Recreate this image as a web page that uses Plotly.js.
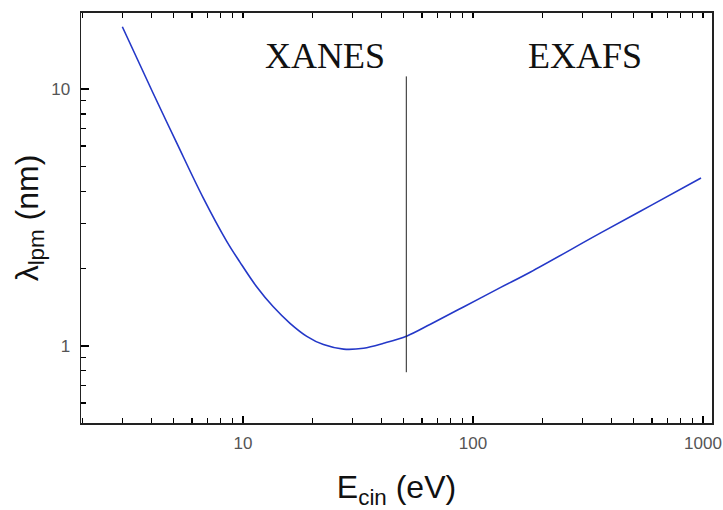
<!DOCTYPE html>
<html>
<head>
<meta charset="utf-8">
<script src="https://cdn.plot.ly/plotly-3.0.1.min.js"></script>
<style>html,body{margin:0;padding:0;background:#fff;}#chart{width:723px;height:510px;}</style>
</head>
<body>
<div id="chart"></div>
<script>
// Kinetic energy (eV) and inelastic mean free path (nm)
const energy = [2.99, 4.07, 5.14, 6.71, 8.49, 9.70, 11.47, 13.55, 16.02, 18.95, 22.38, 27.35, 33.44, 40.87, 51.67, 65.3, 90.9, 132, 178, 359, 600, 980];
const lambda = [17.48, 9.63, 6.20, 3.78, 2.56, 2.12, 1.70, 1.42, 1.225, 1.09, 1.012, 0.972, 0.980, 1.024, 1.094, 1.215, 1.418, 1.69, 1.941, 2.754, 3.54, 4.505];
// XANES / EXAFS boundary
const boundaryE = [51.3, 51.3];
const boundaryLambda = [0.79, 11.2];
const regionLabels = ["XANES", "EXAFS"];
// tick positions
const xMajorTicks = [10, 100, 1000];
const xMinorTicks = [2, 3, 4, 5, 6, 7, 8, 9, 20, 30, 40, 50, 60, 70, 80, 90, 200, 300, 400, 500, 600, 700, 800, 900];
const yMinorTicks = [0.6, 0.7, 0.8, 0.9, 2, 3, 4, 5, 6, 7, 8, 9];
const xTopTicks = xMinorTicks.concat(xMajorTicks);

const traces = [
  {
    x: energy, y: lambda, type: 'scatter', mode: 'lines',
    line: {color: '#2438c8', width: 1.6, shape: 'spline', smoothing: 1},
    hoverinfo: 'skip', showlegend: false
  },
  {
    x: boundaryE, y: boundaryLambda, type: 'scatter', mode: 'lines',
    line: {color: '#222', width: 1},
    hoverinfo: 'skip', showlegend: false
  },
  {
    x: [10], y: [1], xaxis: 'x2', yaxis: 'y2', type: 'scatter', mode: 'markers',
    marker: {opacity: 0, size: 1},
    hoverinfo: 'skip', showlegend: false
  },
  {
    x: [10], y: [1], xaxis: 'x3', yaxis: 'y', type: 'scatter', mode: 'markers',
    marker: {opacity: 0, size: 1},
    hoverinfo: 'skip', showlegend: false
  }
];

const tickFont = {family: 'Liberation Sans, Arial, sans-serif', size: 17, color: '#555'};
const titleFont = {family: 'Liberation Sans, Arial, sans-serif', size: 32, color: '#111'};
const xRange = [0.296, 3.039];
const yRange = [-0.30, 1.296];

const layout = {
  width: 723, height: 510,
  margin: {l: 81, r: 11, t: 13, b: 87},
  paper_bgcolor: '#fff', plot_bgcolor: 'rgba(0,0,0,0)',
  showlegend: false,
  xaxis: {
    type: 'log', range: xRange,
    tickmode: 'array', tickvals: xMajorTicks, ticktext: xMajorTicks.map(String),
    ticks: 'inside', ticklen: 7, tickwidth: 1.5, tickcolor: '#000',
    showgrid: false, zeroline: false,
    showline: true, linecolor: '#222', linewidth: 1.5, mirror: false,
    tickfont: tickFont, ticklabelstandoff: 4,
    title: {text: 'E<sub>cin</sub> (eV)', font: titleFont, standoff: 28}
  },
  yaxis: {
    type: 'log', range: yRange,
    dtick: 1, exponentformat: 'none',
    ticks: 'inside', ticklen: 8, tickwidth: 1.5, tickcolor: '#000',
    showgrid: false, zeroline: false,
    showline: true, linecolor: '#222', linewidth: 1.5, mirror: true,
    tickfont: tickFont, ticklabelstandoff: 6,
    title: {text: 'λ<sub>lpm</sub> (nm)', font: titleFont, standoff: 3}
  },
  xaxis2: {
    type: 'log', range: xRange, overlaying: 'x', anchor: 'y2', side: 'bottom',
    tickmode: 'array', tickvals: xMinorTicks, showticklabels: false,
    ticks: 'inside', ticklen: 5, tickwidth: 1.2, tickcolor: '#000',
    showgrid: false, zeroline: false, showline: false
  },
  xaxis3: {
    type: 'log', range: xRange, overlaying: 'x', anchor: 'y', side: 'top',
    tickmode: 'array', tickvals: xTopTicks, showticklabels: false,
    ticks: 'inside', ticklen: 5, tickwidth: 1.3, tickcolor: '#000',
    showgrid: false, zeroline: false,
    showline: true, linecolor: '#222', linewidth: 2
  },
  yaxis2: {
    type: 'log', range: yRange, overlaying: 'y', anchor: 'x2', side: 'left',
    tickmode: 'array', tickvals: yMinorTicks, showticklabels: false,
    ticks: 'inside', ticklen: 5, tickwidth: 1.2, tickcolor: '#000',
    showgrid: false, zeroline: false, showline: false
  },
  annotations: [
    {text: regionLabels[0], xref: 'paper', yref: 'paper', x: 0.387, y: 0.895,
     xanchor: 'center', yanchor: 'middle', showarrow: false,
     font: {family: 'Liberation Serif, Times New Roman, serif', size: 36, color: '#111'}},
    {text: regionLabels[1], xref: 'paper', yref: 'paper', x: 0.799, y: 0.895,
     xanchor: 'center', yanchor: 'middle', showarrow: false,
     font: {family: 'Liberation Serif, Times New Roman, serif', size: 36, color: '#111'}}
  ]
};

Plotly.newPlot('chart', traces, layout, {displayModeBar: false, staticPlot: true});
</script>
</body>
</html>
